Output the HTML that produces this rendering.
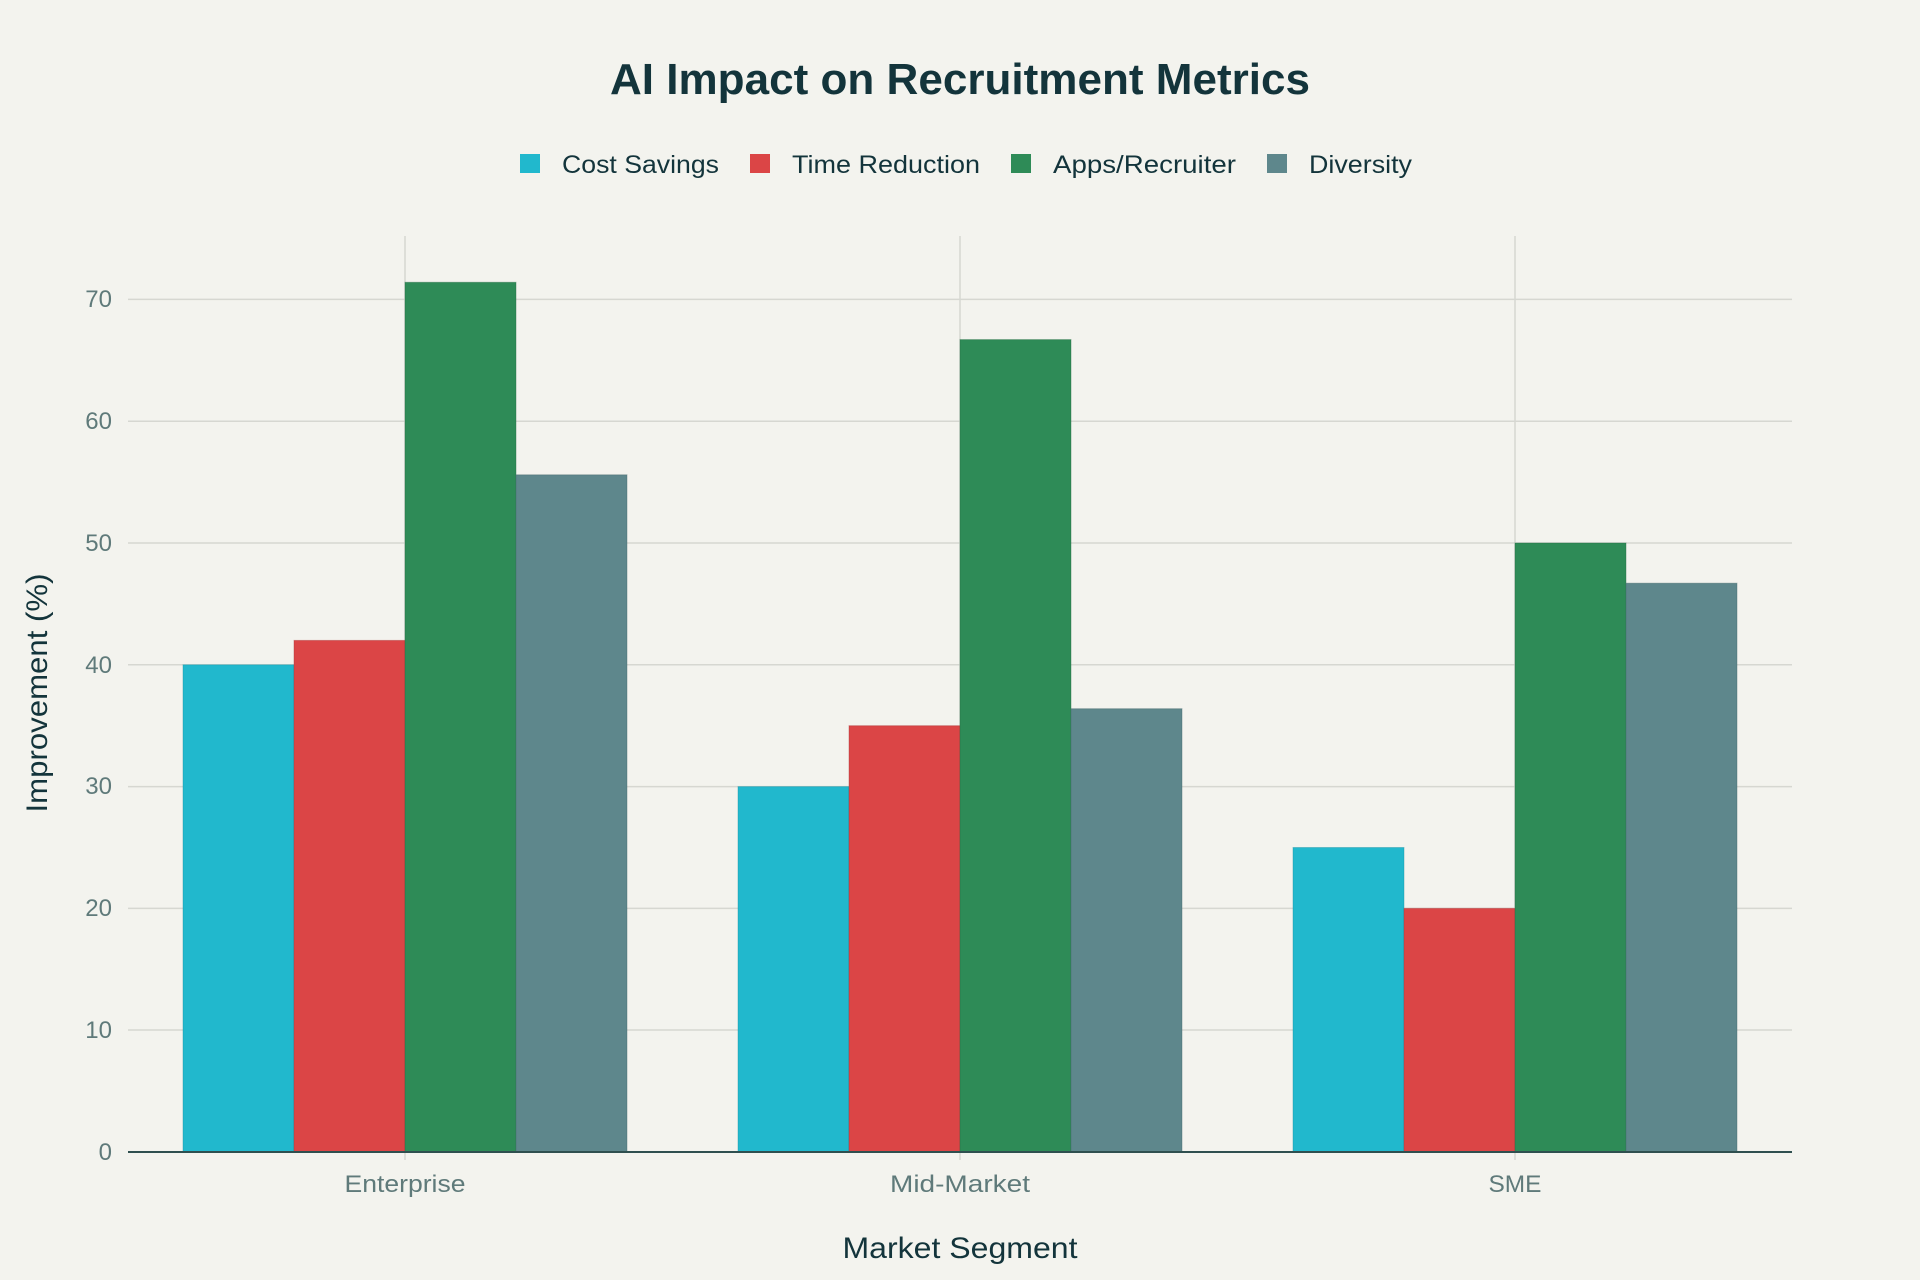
<!DOCTYPE html>
<html><head><meta charset="utf-8"><style>
html,body{margin:0;padding:0;background:#f3f3ee;}
svg{display:block;font-family:"Liberation Sans",sans-serif;}
</style></head><body>
<svg width="1920" height="1280" xmlns="http://www.w3.org/2000/svg">
<rect width="1920" height="1280" fill="#f3f3ee"/>
<text x="960" y="94" text-anchor="middle" font-size="44" font-weight="bold" fill="#13343b" textLength="700" lengthAdjust="spacingAndGlyphs">AI Impact on Recruitment Metrics</text>
<g font-size="25" fill="#13343b">
<rect x="520" y="154" width="20" height="19" fill="#21b8cd"/><text x="562" y="173" textLength="157" lengthAdjust="spacingAndGlyphs">Cost Savings</text>
<rect x="750" y="154" width="20" height="19" fill="#db4546"/><text x="792" y="173" textLength="188" lengthAdjust="spacingAndGlyphs">Time Reduction</text>
<rect x="1011" y="154" width="20" height="19" fill="#2e8b57"/><text x="1053" y="173" textLength="183" lengthAdjust="spacingAndGlyphs">Apps/Recruiter</text>
<rect x="1267" y="154" width="20" height="19" fill="#5e878c"/><text x="1309" y="173" textLength="103" lengthAdjust="spacingAndGlyphs">Diversity</text>
</g>
<g stroke="#d6d7d1" stroke-width="1.5">
<line x1="128" x2="1792" y1="1030" y2="1030"/>
<line x1="128" x2="1792" y1="908.4" y2="908.4"/>
<line x1="128" x2="1792" y1="786.6" y2="786.6"/>
<line x1="128" x2="1792" y1="664.8" y2="664.8"/>
<line x1="128" x2="1792" y1="543" y2="543"/>
<line x1="128" x2="1792" y1="421.2" y2="421.2"/>
<line x1="128" x2="1792" y1="299.4" y2="299.4"/>
<line x1="405" x2="405" y1="236" y2="1160"/>
<line x1="960" x2="960" y1="236" y2="1160"/>
<line x1="1515" x2="1515" y1="236" y2="1160"/>
</g>
<g stroke-width="1" stroke-opacity="0.4">
<rect x="183" y="664.8" width="111" height="487.2" fill="#21b8cd" stroke="#1a8f9f"/>
<rect x="294" y="640.4" width="111" height="511.6" fill="#db4546" stroke="#a83536"/>
<rect x="405" y="282.3" width="111" height="869.7" fill="#2e8b57" stroke="#226841"/>
<rect x="516" y="474.8" width="111" height="677.2" fill="#5e878c" stroke="#44666a"/>
<rect x="738" y="786.6" width="111" height="365.4" fill="#21b8cd" stroke="#1a8f9f"/>
<rect x="849" y="725.7" width="111" height="426.3" fill="#db4546" stroke="#a83536"/>
<rect x="960" y="339.6" width="111" height="812.4" fill="#2e8b57" stroke="#226841"/>
<rect x="1071" y="708.7" width="111" height="443.3" fill="#5e878c" stroke="#44666a"/>
<rect x="1293" y="847.5" width="111" height="304.5" fill="#21b8cd" stroke="#1a8f9f"/>
<rect x="1404" y="908.4" width="111" height="243.6" fill="#db4546" stroke="#a83536"/>
<rect x="1515" y="543" width="111" height="609" fill="#2e8b57" stroke="#226841"/>
<rect x="1626" y="583.2" width="111" height="568.8" fill="#5e878c" stroke="#44666a"/>
</g>
<line x1="128" x2="1792" y1="1152" y2="1152" stroke="#2f4f4f" stroke-width="2"/>
<g font-size="24" fill="#5f7a7a" text-anchor="end">
<text x="112" y="1160">0</text>
<text x="112" y="1038">10</text>
<text x="112" y="916">20</text>
<text x="112" y="794">30</text>
<text x="112" y="673">40</text>
<text x="112" y="551">50</text>
<text x="112" y="429">60</text>
<text x="112" y="307">70</text>
</g>
<g font-size="24" fill="#5f7a7a" text-anchor="middle">
<text x="405" y="1192" textLength="121" lengthAdjust="spacingAndGlyphs">Enterprise</text>
<text x="960" y="1192" textLength="140" lengthAdjust="spacingAndGlyphs">Mid-Market</text>
<text x="1515" y="1192" textLength="53" lengthAdjust="spacingAndGlyphs">SME</text>
</g>
<text x="960" y="1258" text-anchor="middle" font-size="30" fill="#13343b" textLength="235" lengthAdjust="spacingAndGlyphs">Market Segment</text>
<text transform="translate(47,693) rotate(-90)" text-anchor="middle" font-size="30" fill="#13343b" textLength="239" lengthAdjust="spacingAndGlyphs">Improvement (%)</text>
</svg>
</body></html>
